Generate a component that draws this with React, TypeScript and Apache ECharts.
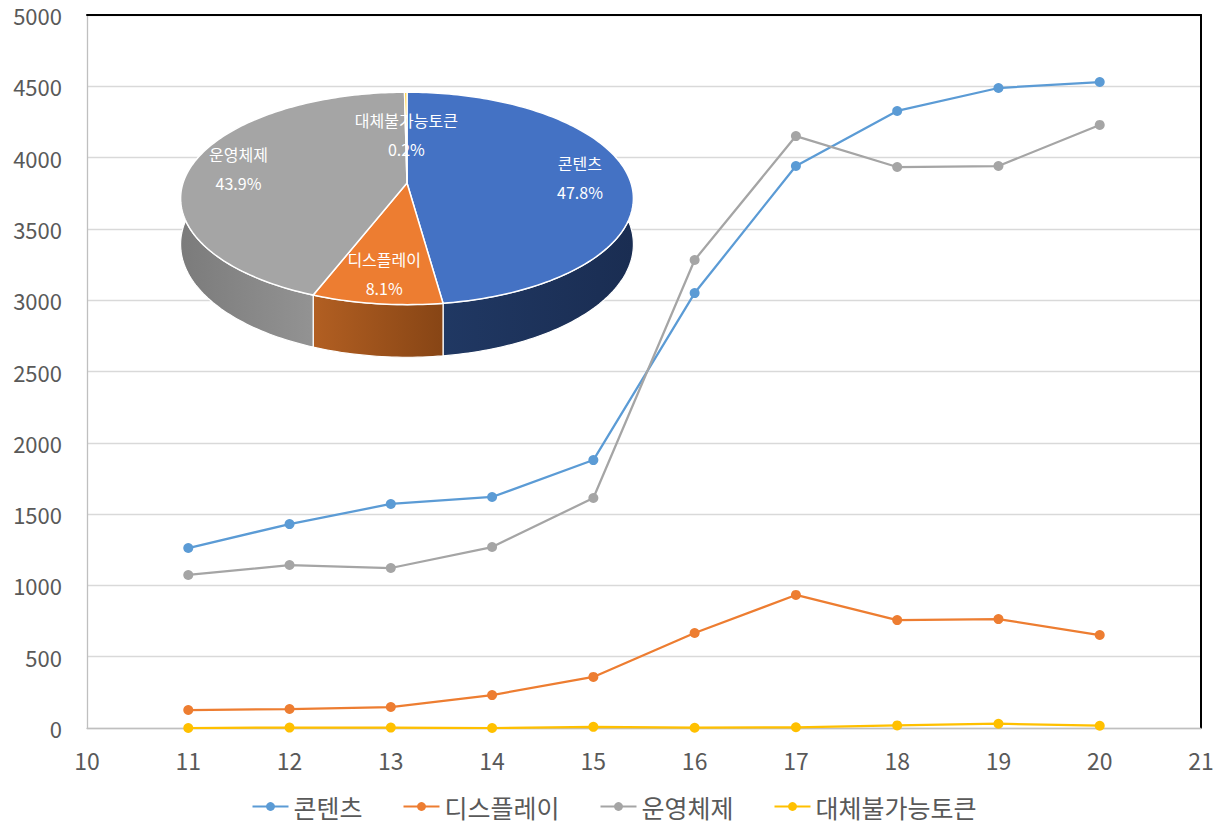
import React, { useEffect, useRef } from 'react';
import * as echarts from 'echarts';

// ---- data ----
const xValues = [11, 12, 13, 14, 15, 16, 17, 18, 19, 20];
const seriesNames = ['콘텐츠', '디스플레이', '운영체제', '대체불가능토큰'];
const contents = [1262, 1430, 1571, 1620, 1879, 3050, 3941, 4327, 4488, 4530];
const display = [126, 133, 147, 231, 358, 666, 933, 757, 764, 652];
const operating = [1073, 1143, 1122, 1269, 1613, 3282, 4151, 3934, 3941, 4229];
const nft = [0, 3, 3, 0, 8, 2, 5, 18, 30, 16];
const pieValues = [47.8, 8.1, 43.9, 0.2];

const lineColors = ['#5b9bd5', '#ed7d31', '#a5a5a5', '#ffc000'];
const topColors = ['#4472c4', '#ed7d31', '#a5a5a5', '#ffc000'];
const sideColors = [
  ['#213a66', '#1a2d52'],
  ['#b25f22', '#874515'],
  ['#7b7b7b', '#a3a3a3'],
  ['#b38600', '#996f00'],
];

const FONT = "'Noto Sans CJK KR', 'Noto Sans', sans-serif";

// pie projection parameters (layout)
const PC = { cx: 407, cy: 183, a: 104, b: 224, p: 0.145, h: 45 };
function proj(theta: number, r: number, depth: number): number[] {
  const u = Math.sin(theta) * r;
  const v = Math.cos(theta) * r;
  const f = 1 / (1 + PC.p * v);
  return [PC.cx + PC.b * u * f, PC.cy - PC.a * v * f + depth * f];
}

export default function App() {
  const ref = useRef<HTMLDivElement>(null);
  useEffect(() => {
    if (!ref.current) return;
    const chart = echarts.init(ref.current, undefined, { renderer: 'svg' });
    const total = pieValues.reduce((s, v) => s + v, 0);
    let acc = 0;
    const pieData = pieValues.map((v, i) => {
      const s = acc / total;
      acc += v;
      return [s, acc / total, i, v];
    });
    const lineData = [contents, display, operating, nft];

    const sideRender = (params: any, api: any) => {
      const s = api.value(0) * Math.PI * 2;
      const e = api.value(1) * Math.PI * 2;
      const idx = api.value(2);
      const steps = Math.max(2, Math.ceil((e - s) / 0.02));
      const top: number[][] = [];
      const bot: number[][] = [];
      for (let k = 0; k <= steps; k++) {
        const t = s + ((e - s) * k) / steps;
        top.push(proj(t, 1, 0));
        bot.push(proj(t, 1, PC.h));
      }
      const points = top.concat(bot.reverse());
      return {
        type: 'polygon',
        shape: { points },
        style: {
          fill: {
            type: 'linear', x: 0, y: 0, x2: 1, y2: 0,
            colorStops: [
              { offset: 0, color: sideColors[idx][0] },
              { offset: 1, color: sideColors[idx][1] },
            ],
          },
          stroke: '#ffffff',
          lineWidth: 1.2,
        },
      };
    };

    const topRender = (params: any, api: any) => {
      const s = api.value(0) * Math.PI * 2;
      const e = api.value(1) * Math.PI * 2;
      const idx = api.value(2);
      const val = api.value(3);
      const steps = Math.max(2, Math.ceil((e - s) / 0.02));
      const points: number[][] = [[PC.cx, PC.cy]];
      for (let k = 0; k <= steps; k++) {
        const t = s + ((e - s) * k) / steps;
        points.push(proj(t, 1, 0));
      }
      const mid = (s + e) / 2;
      const lr = val < 1 ? 0.5 : 0.78;
      const lp = proj(mid, lr, 0);
      return {
        type: 'group',
        children: [
          {
            type: 'polygon',
            shape: { points },
            style: { fill: topColors[idx], stroke: '#ffffff', lineWidth: 1.5 },
          },
          {
            type: 'text',
            x: lp[0],
            y: lp[1],
            z2: 10,
            style: {
              text: seriesNames[idx] + '\n' + Number(val).toFixed(1) + '%',
              fill: '#ffffff',
              fontSize: 16,
              lineHeight: 29,
              align: 'center',
              verticalAlign: 'middle',
              fontFamily: FONT,
            },
          },
        ],
      };
    };

    const option: any = {
      animation: false,
      backgroundColor: '#ffffff',
      textStyle: { fontFamily: FONT },
      grid: { left: 87, right: 27, top: 15, bottom: 98, containLabel: false },
      legend: {
        data: seriesNames,
        left: 'center',
        top: 789,
        itemWidth: 36,
        itemHeight: 11,
        itemGap: 40,
        textStyle: { fontSize: 25, color: '#595959', fontFamily: FONT },
      },
      xAxis: [
        {
          type: 'value',
          min: 10,
          max: 21,
          interval: 1,
          axisLine: { show: true, lineStyle: { color: '#bfbfbf', width: 1.3 } },
          axisTick: { show: false },
          splitLine: { show: false },
          axisLabel: { fontSize: 23, color: '#595959', margin: 20, fontFamily: FONT, formatter: (v: number) => String(v) },
        },
        {
          type: 'value',
          position: 'top',
          min: 10,
          max: 21,
          interval: 1,
          axisLine: { show: true, onZero: false, lineStyle: { color: '#000000', width: 2 } },
          axisTick: { show: false },
          splitLine: { show: false },
          axisLabel: { show: false },
        },
      ],
      yAxis: [
        {
          type: 'value',
          min: 0,
          max: 5000,
          interval: 500,
          axisLine: { show: true, lineStyle: { color: '#bfbfbf', width: 1.3 } },
          axisTick: { show: false },
          splitLine: { show: true, lineStyle: { color: '#d9d9d9', width: 1.3 } },
          axisLabel: { fontSize: 22, color: '#595959', margin: 25, fontFamily: FONT, formatter: (v: number) => String(v) },
        },
        {
          type: 'value',
          position: 'right',
          min: 0,
          max: 5000,
          interval: 500,
          axisLine: { show: true, onZero: false, lineStyle: { color: '#000000', width: 2 } },
          axisTick: { show: false },
          splitLine: { show: false },
          axisLabel: { show: false },
        },
      ],
      series: [
        ...seriesNames.map((name, i) => ({
          name,
          type: 'line',
          xAxisIndex: 0,
          yAxisIndex: 0,
          data: xValues.map((x, j) => [x, lineData[i][j]]),
          symbol: 'circle',
          symbolSize: 10,
          itemStyle: { color: lineColors[i] },
          lineStyle: { color: lineColors[i], width: 2.25 },
          z: 3,
        })),
        {
          name: 'pieSide',
          type: 'custom',
          coordinateSystem: 'none',
          renderItem: sideRender,
          data: pieData,
          z: 10,
          silent: true,
        },
        {
          name: 'pieTop',
          type: 'custom',
          coordinateSystem: 'none',
          renderItem: topRender,
          data: pieData,
          z: 11,
          silent: true,
        },
      ],
    };
    chart.setOption(option);
    return () => chart.dispose();
  }, []);
  return (
    <div
      ref={ref}
      style={{ position: 'fixed', left: 0, top: 0, width: 1228, height: 826, background: '#fff' }}
    />
  );
}
